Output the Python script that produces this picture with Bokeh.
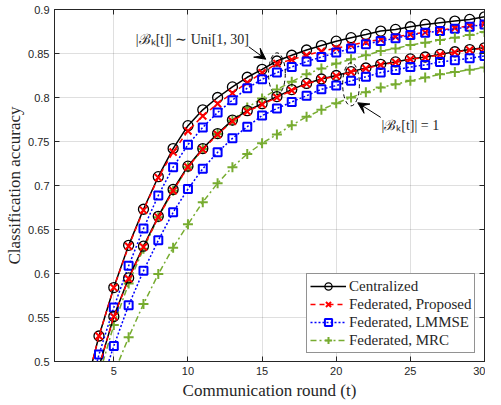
from bokeh.plotting import figure
from bokeh.models import (LinearAxis, FixedTicker, Range1d, Legend, LegendItem,
                          Label, Arrow, VeeHead)
from bokeh.embed import file_html
from bokeh.resources import INLINE

nan = float("nan")
rounds = list(range(1, 31))

# |B_k[t]| ~ Uni[1,30]
cen_uni = [nan, nan, 0.463, 0.529, 0.584, 0.632, 0.673, 0.710, 0.742, 0.768, 0.786, 0.800, 0.812, 0.823, 0.832,
           0.8415, 0.848, 0.854, 0.859, 0.864, 0.868, 0.8717, 0.8755, 0.8774, 0.8804, 0.883, 0.8849, 0.8868, 0.8887, 0.8917]
prop_uni = [nan, nan, 0.463, 0.529, 0.584, 0.631, 0.672, 0.709, 0.738, 0.762, 0.779, 0.793, 0.805, 0.817, 0.828,
            0.8386, 0.843, 0.848, 0.8525, 0.856, 0.8595, 0.863, 0.866, 0.869, 0.8715, 0.874, 0.8765, 0.879, 0.8815, 0.8838]
lmmse_uni = [nan, nan, 0.443, 0.508, 0.5615, 0.6087, 0.651, 0.6887, 0.7208, 0.7464, 0.766, 0.783, 0.797, 0.8106, 0.8207,
             0.8283, 0.8347, 0.8408, 0.846, 0.851, 0.8558, 0.8604, 0.8642, 0.8672, 0.871, 0.8736, 0.8755, 0.8781, 0.8804, 0.883]
mrc_uni = [nan, nan, nan, 0.484, 0.5415, 0.5887, 0.628, 0.664, 0.694, 0.7208, 0.7415, 0.7585, 0.7736, 0.7887, 0.799,
           0.809, 0.818, 0.8265, 0.833, 0.8385, 0.8435, 0.848, 0.8528, 0.8558, 0.8596, 0.8623, 0.8653, 0.868, 0.871, 0.8743]

# |B_k[t]| = 1
cen_one = [nan, nan, nan, 0.494, 0.551, 0.595, 0.631, 0.665, 0.6955, 0.722, 0.742, 0.759, 0.7743, 0.785, 0.793,
           0.801, 0.809, 0.816, 0.821, 0.825, 0.8294, 0.8335, 0.8377, 0.8404, 0.8438, 0.846, 0.849, 0.852, 0.8545, 0.8565]
prop_one = [nan, nan, nan, 0.494, 0.551, 0.594, 0.630, 0.664, 0.694, 0.721, 0.741, 0.758, 0.773, 0.784, 0.792,
            0.800, 0.808, 0.8155, 0.8205, 0.8245, 0.829, 0.833, 0.837, 0.840, 0.8435, 0.8455, 0.8485, 0.8515, 0.854, 0.856]
lmmse_one = [nan, nan, nan, 0.466, 0.5177, 0.564, 0.603, 0.6377, 0.6695, 0.696, 0.719, 0.7377, 0.7536, 0.7668, 0.7795,
             0.7875, 0.795, 0.802, 0.8094, 0.8135, 0.819, 0.8235, 0.8283, 0.8313, 0.8347, 0.837, 0.8404, 0.8423, 0.8445, 0.8472]
mrc_one = [nan, nan, nan, nan, 0.4865, 0.5275, 0.5653, 0.5993, 0.6294, 0.6559, 0.6811, 0.7026, 0.7208, 0.7358, 0.748,
           0.758, 0.7686, 0.778, 0.786, 0.7935, 0.800, 0.806, 0.8113, 0.815, 0.819, 0.8226, 0.8264, 0.829, 0.8315, 0.834]

x_ticks = [5, 10, 15, 20, 25, 30]
y_ticks = [0.5, 0.55, 0.6, 0.65, 0.7, 0.75, 0.8, 0.85, 0.9]
y_tick_labels = ["0.5", "0.55", "0.6", "0.65", "0.7", "0.75", "0.8", "0.85", "0.9"]

series_names = ["Centralized", "Federated, Proposed", "Federated, LMMSE", "Federated, MRC"]
x_title = "Communication round (t)"
y_title = "Classification accuracy"

# annotation anchors (data coordinates)
ann_uni_text = (10.3, 0.866)
ann_one_text = (23.05, 0.7683)
arrow_uni = (14.1, 0.8577, 15.25, 0.8435)
arrow_one = (23.0, 0.7774, 21.45, 0.7940)
ell_x = [16.0, 21.0]
ell_y = [0.827, 0.815]
ell_w = [1.13, 1.13]
ell_h = [0.0475, 0.049]

INK = "#262626"
SERIF = "Liberation Serif"
SANS = "Liberation Sans"

p = figure(width=485, height=402, output_backend="svg", toolbar_location=None,
           x_range=Range1d(1, 30), y_range=Range1d(0.5, 0.9),
           min_border_left=54, min_border_right=1, min_border_top=9, min_border_bottom=36)
p.background_fill_color = "white"
p.border_fill_color = "white"
p.outline_line_color = INK
p.outline_line_width = 1

def style_axis(ax, ticks, show_labels):
    ax.ticker = FixedTicker(ticks=ticks)
    ax.major_tick_in = 5
    ax.major_tick_out = 0
    ax.minor_tick_line_color = None
    ax.axis_line_color = INK
    ax.major_tick_line_color = INK
    ax.major_label_text_font = SANS
    ax.major_label_text_color = INK
    if show_labels:
        ax.major_label_text_font_size = "11px"
        ax.major_label_standoff = 5
    else:
        ax.major_label_text_font_size = "0px"
        ax.major_label_standoff = 0
        ax.major_label_overrides = {t: "" for t in ticks}

style_axis(p.xaxis[0], x_ticks, True)
style_axis(p.yaxis[0], y_ticks, True)
p.xaxis[0].major_label_standoff = 5
p.yaxis[0].major_label_overrides = dict(zip(y_ticks, y_tick_labels))

for ax, title in [(p.xaxis[0], x_title), (p.yaxis[0], y_title)]:
    ax.axis_label = title
    ax.axis_label_text_font = SERIF
    ax.axis_label_text_font_size = "17px"
    ax.axis_label_text_font_style = "normal"
    ax.axis_label_text_color = INK
    ax.axis_label_standoff = 3
p.yaxis[0].axis_label_standoff = 1

top = LinearAxis()
style_axis(top, x_ticks, False)
p.add_layout(top, "above")
right = LinearAxis()
style_axis(right, y_ticks, False)
p.add_layout(right, "right")

p.xgrid.ticker = FixedTicker(ticks=x_ticks)
p.ygrid.ticker = FixedTicker(ticks=y_ticks)
p.grid.grid_line_color = INK
p.grid.grid_line_alpha = 0.15

styles = [
    dict(color="black", dash="solid", marker="circle", size=10, mlw=1.3),
    dict(color="#FF0000", dash="5 4", marker="x", size=10, mlw=2),
    dict(color="#0000FF", dash="2 2", marker="square", size=8, mlw=2),
    dict(color="#77AC30", dash="6 3 2 3", marker="cross", size=10, mlw=2),
]

legend_items = []
for gi, group in enumerate([[cen_uni, prop_uni, lmmse_uni, mrc_uni], [cen_one, prop_one, lmmse_one, mrc_one]]):
    for si, ys in enumerate(group):
        st = styles[si]
        ln = p.line(rounds, ys, line_color=st["color"], line_width=1.5, line_dash=st["dash"])
        sc = p.scatter(rounds, ys, marker=st["marker"], size=st["size"], fill_color=None,
                       line_color=st["color"], line_width=st["mlw"])
        if gi == 0:
            legend_items.append(LegendItem(label=series_names[si], renderers=[ln, sc]))

# dashed ellipses
p.ellipse(x=ell_x, y=ell_y, width=ell_w, height=ell_h, fill_color=None,
          line_color="black", line_width=1, line_dash="4 3")

p.add_layout(Arrow(x_start=arrow_uni[0], y_start=arrow_uni[1], x_end=arrow_uni[2], y_end=arrow_uni[3],
                   line_color="black", line_width=1,
                   end=VeeHead(size=11, fill_color="black", line_color="black", line_width=1)))
p.add_layout(Arrow(x_start=arrow_one[0], y_start=arrow_one[1], x_end=arrow_one[2], y_end=arrow_one[3],
                   line_color="black", line_width=1,
                   end=VeeHead(size=11, fill_color="black", line_color="black", line_width=1)))

p.add_layout(Label(x=ann_uni_text[0], y=ann_uni_text[1], text="|ℬₖ[t]| ∼ Uni[1, 30]",
                   text_font=SERIF, text_font_size="14px", text_color=INK,
                   text_align="center", text_baseline="middle"))
p.add_layout(Label(x=ann_one_text[0], y=ann_one_text[1], text="|ℬₖ[t]| = 1",
                   text_font=SERIF, text_font_size="14px", text_color=INK,
                   text_align="left", text_baseline="middle"))

legend = Legend(items=legend_items, location=(252, 8))
legend.label_text_font = SERIF
legend.label_text_font_size = "15px"
legend.label_text_color = INK
legend.glyph_width = 36
legend.glyph_height = 18
legend.label_height = 18
legend.label_standoff = 3
legend.spacing = 0
legend.padding = 3
legend.margin = 0
legend.border_line_color = INK
legend.border_line_width = 1
legend.background_fill_color = "white"
legend.background_fill_alpha = 1
p.add_layout(legend)

open("out.html", "w").write(file_html(p, INLINE))
